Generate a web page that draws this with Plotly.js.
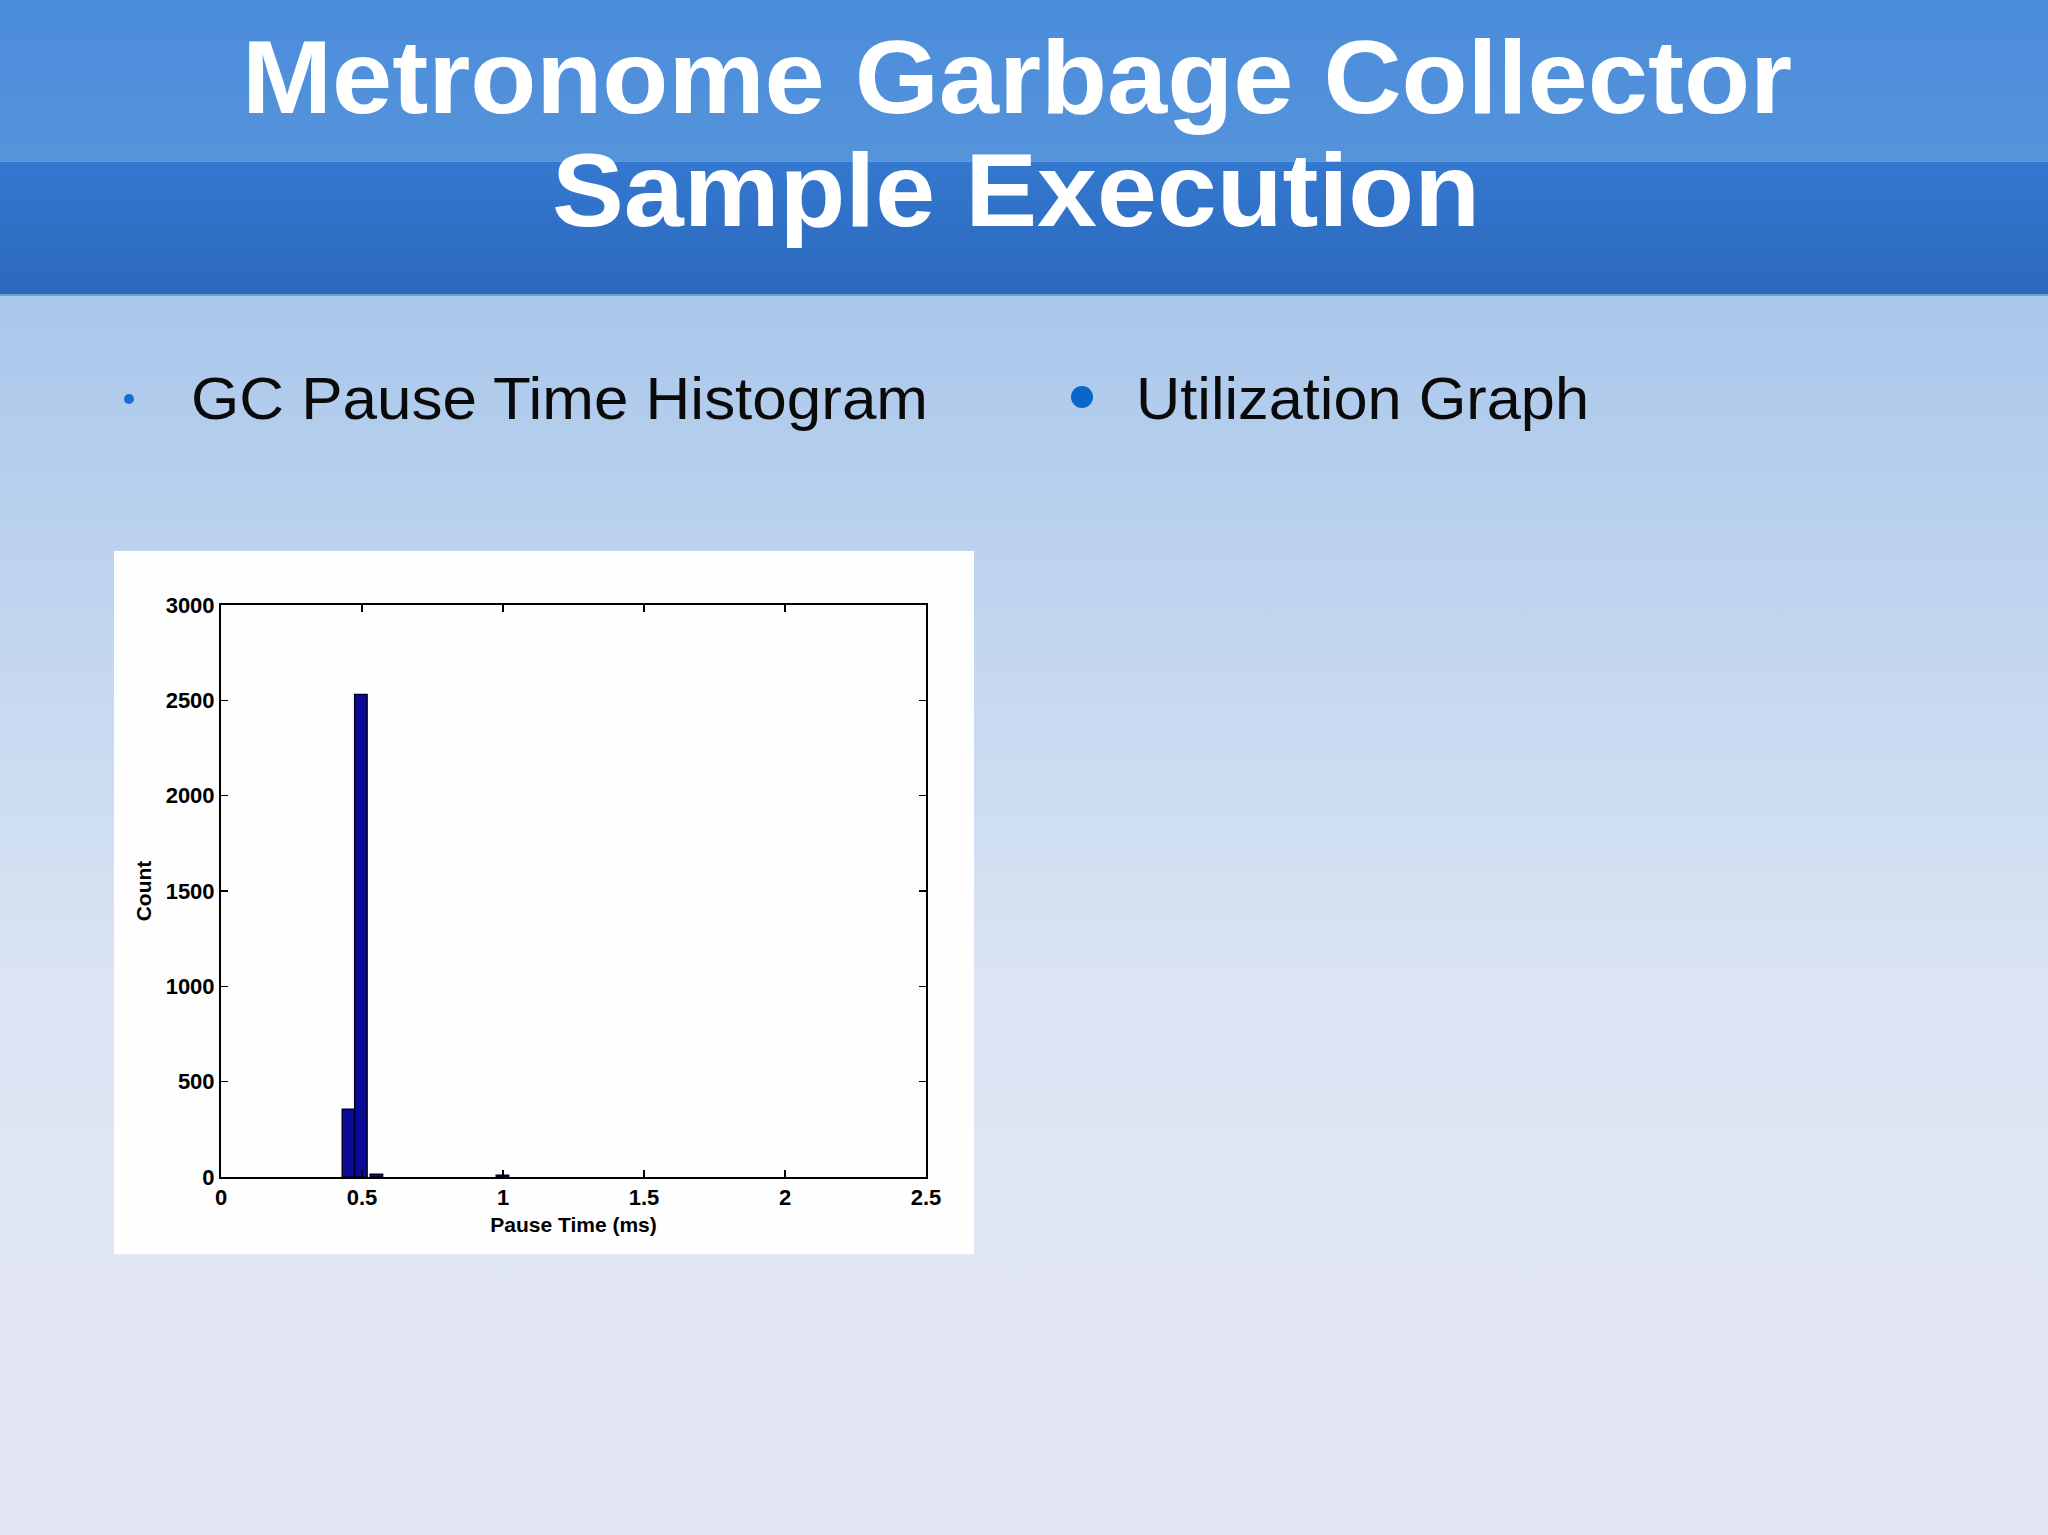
<!DOCTYPE html>
<html>
<head>
<meta charset="utf-8">
<script src="https://cdn.plot.ly/plotly-3.0.1.min.js"></script>
<style>
  html, body { margin:0; padding:0; width:2048px; height:1535px; overflow:hidden; }
  #slide { position:absolute; left:0; top:0; width:2048px; height:1535px;
           background: linear-gradient(to bottom, #a9c7eb 0px, #a9c7eb 296px, #c3d6ef 640px, #dae4f3 980px, #e1e6f4 1250px, #e3e5f4 1535px); }
  #hdrTop { position:absolute; left:0; top:0; width:2048px; height:161px;
            background: linear-gradient(to bottom, #4b8cdc, #5594da); }
  #hdrBot { position:absolute; left:0; top:161px; width:2048px; height:135px;
            background: linear-gradient(to bottom, #3478cf, #2b69bd);
            border-top:1px solid #5d9be0; border-bottom:2px solid #6f9fd8; box-sizing:border-box; }
  #deco { position:absolute; left:0; top:0; width:2048px; height:1535px; }
  #chart { position:absolute; left:114px; top:551px; width:860px; height:703px; }
</style>
</head>
<body>
<div id="slide">
  <div id="hdrTop"></div>
  <div id="hdrBot"></div>
  <svg id="deco" width="2048" height="1535" xmlns="http://www.w3.org/2000/svg">
    <g font-family="'Liberation Sans', Arial, sans-serif" font-weight="bold" font-size="104" fill="#ffffff" text-anchor="middle">
      <text x="1017" y="113" textLength="1550" lengthAdjust="spacingAndGlyphs">Metronome Garbage Collector</text>
      <text x="1016" y="226" textLength="928" lengthAdjust="spacingAndGlyphs">Sample Execution</text>
    </g>
    <circle cx="129" cy="399" r="5" fill="#1b6bd6"/>
    <circle cx="1082" cy="397" r="11" fill="#0a66c9"/>
    <g font-family="'Liberation Sans', Arial, sans-serif" font-size="59" fill="#0a0a0a">
      <text x="191" y="419" textLength="737" lengthAdjust="spacingAndGlyphs">GC Pause Time Histogram</text>
      <text x="1136" y="419" textLength="453" lengthAdjust="spacingAndGlyphs">Utilization Graph</text>
    </g>
  </svg>
  <div id="chart"></div>
</div>
<script>
// Histogram data (bin centres in ms, counts)
var pauseTimeBins = [0.452, 0.496, 0.551, 0.998];
var pauseCounts   = [355, 2530, 15, 9];
var xTickVals  = [0, 0.5, 1, 1.5, 2, 2.5];
var xTickText  = ['0', '0.5', '1', '1.5', '2', '2.5'];
var yTickVals  = [0, 500, 1000, 1500, 2000, 2500, 3000];
var yTickText  = ['0', '500', '1000', '1500', '2000', '2500', '3000'];

var trace = {
  type: 'bar',
  x: pauseTimeBins,
  y: pauseCounts,
  width: 0.044,
  marker: { color: '#0b0b98', line: { color: '#000022', width: 1.5 } },
  hoverinfo: 'x+y'
};

var tickFont  = { family: "'Liberation Sans', Arial, sans-serif", size: 22, color: '#000000', weight: 'bold' };
var titleFont = { family: "'Liberation Sans', Arial, sans-serif", size: 21, color: '#000000', weight: 'bold' };

var layout = {
  width: 860, height: 703,
  paper_bgcolor: '#fdfefd',
  plot_bgcolor: '#fdfefd',
  margin: { l: 107, r: 48, t: 54, b: 77 },
  showlegend: false,
  bargap: 0,
  font: tickFont,
  xaxis: {
    range: [0, 2.5],
    tickvals: xTickVals, ticktext: xTickText,
    ticks: 'inside', ticklen: 7, tickwidth: 1.5, tickcolor: '#000',
    showline: true, linecolor: '#000', linewidth: 2, mirror: 'ticks',
    showgrid: false, zeroline: false,
    tickfont: tickFont,
    automargin: false,
    title: { text: 'Pause Time (ms)', font: titleFont, standoff: 8 }
  },
  yaxis: {
    range: [0, 3000],
    tickvals: yTickVals, ticktext: yTickText,
    ticks: 'inside', ticklen: 7, tickwidth: 1.5, tickcolor: '#000',
    showline: true, linecolor: '#000', linewidth: 2, mirror: 'ticks',
    showgrid: false, zeroline: false,
    tickfont: tickFont,
    automargin: false,
    title: { text: 'Count', font: titleFont, standoff: 8 }
  }
};

Plotly.newPlot('chart', [trace], layout, { displayModeBar: false, staticPlot: true });
</script>
</body>
</html>
